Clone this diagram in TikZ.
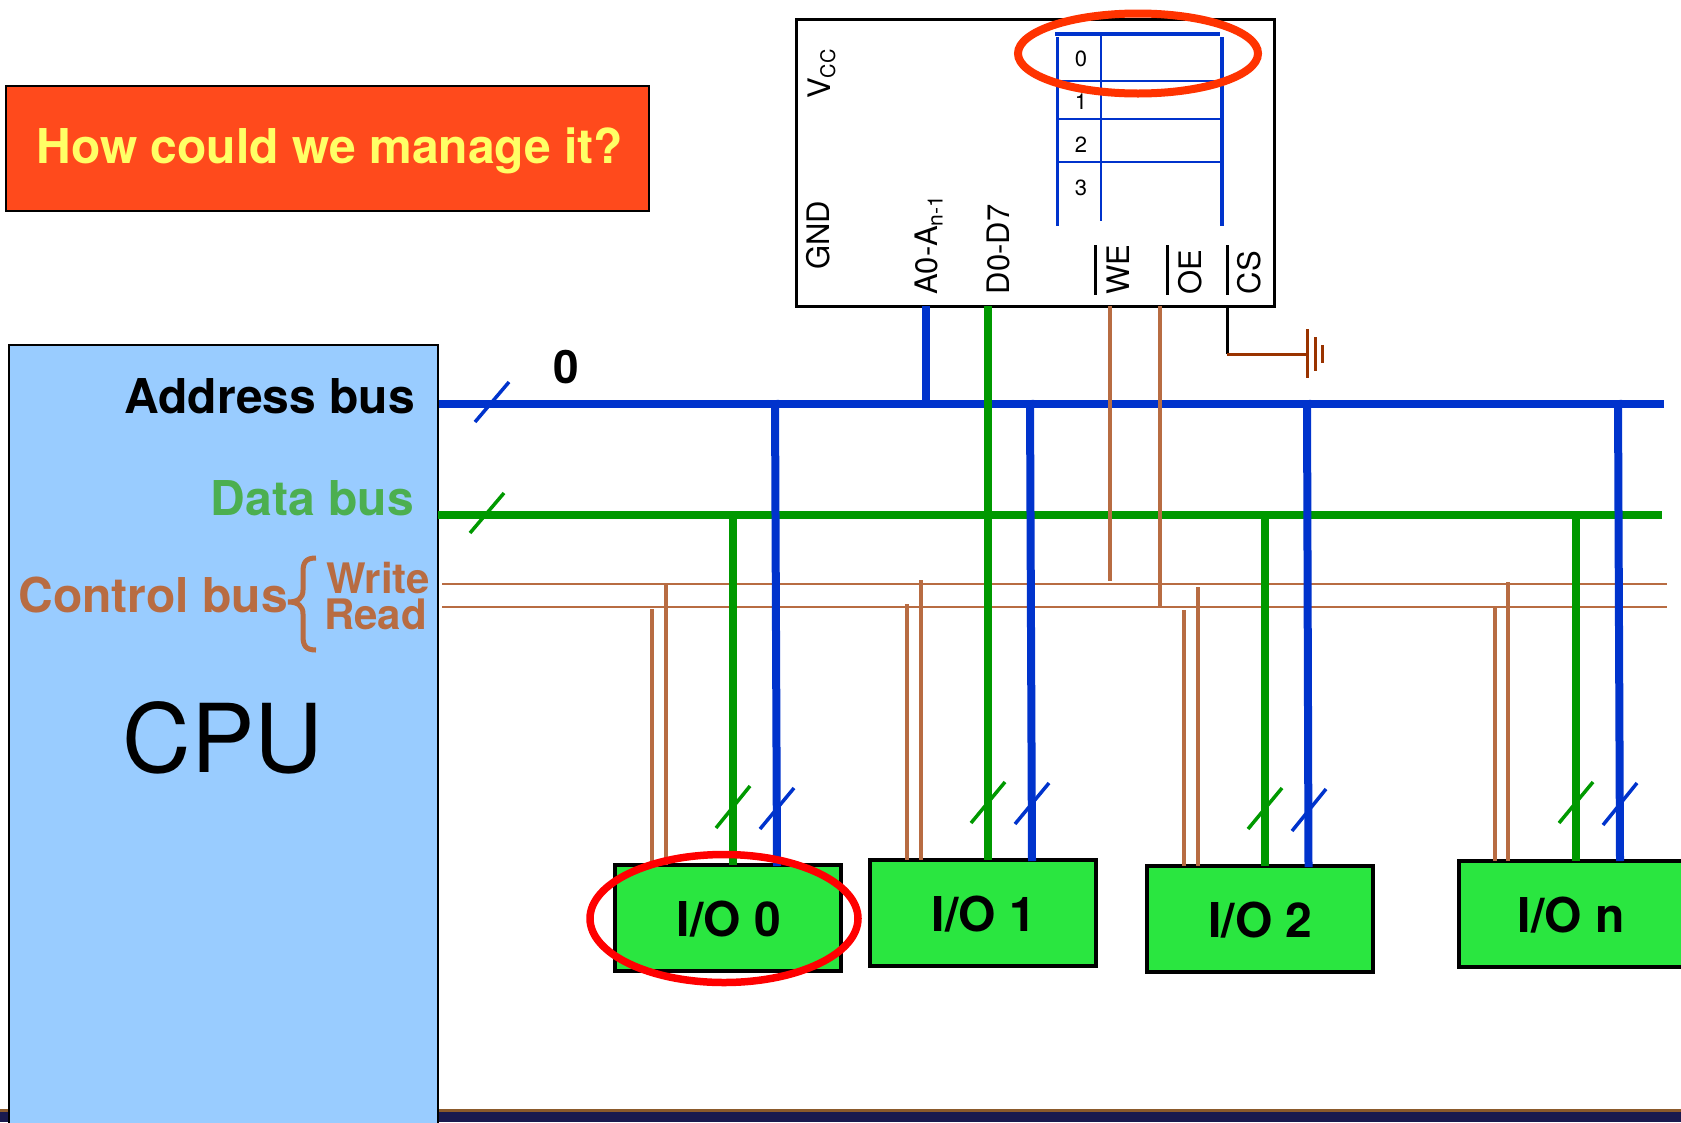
\documentclass[tikz,border=0pt]{standalone}
\usepackage{fontspec}
\setmainfont{TeX Gyre Heros}
\newcommand{\fs}[1]{\fontsize{#1}{#1}\selectfont}
\definecolor{abus}{HTML}{0033CC}
\definecolor{dbus}{HTML}{009900}
\definecolor{cbus}{HTML}{B86C42}
\definecolor{dlabel}{HTML}{4CAF50}
\definecolor{cpufill}{HTML}{99CCFF}
\definecolor{iofill}{HTML}{2AE640}
\definecolor{titlefill}{HTML}{FF4A1C}
\definecolor{titletext}{HTML}{FFFF66}
\definecolor{ringo}{HTML}{FF3300}
\definecolor{gnd}{HTML}{993300}
\definecolor{navy}{HTML}{1A1A4E}
\definecolor{barline}{HTML}{8B5A2B}
\tikzset{
  addrline/.style={abus,line width=8pt},
  dataline/.style={dbus,line width=8pt},
  ctrlline/.style={cbus,line width=3.5pt},
  ctrlbus/.style={cbus,line width=2.5pt},
  aslash/.style={abus,line width=3.5pt},
  dslash/.style={dbus,line width=3.5pt},
  iobox/.style={draw=black,fill=iofill,line width=4pt,minimum width=226pt,minimum height=106pt,inner sep=0pt,outer sep=0pt},
  iotext/.style={inner sep=0pt,anchor=base,font=\fs{48}\bfseries},
  buslabel/.style={inner sep=0pt,anchor=base east,font=\fs{48}\bfseries},
  pin/.style={rotate=90,anchor=base west,inner sep=0pt,font=\fs{31}},
  cellnum/.style={inner sep=0pt,font=\fs{22}},
  cellwide/.style={abus,line width=3.5pt},
  cellthin/.style={abus,line width=2pt},
  overbar/.style={black,line width=3pt},
}
\begin{document}
\begin{tikzpicture}[x=1pt,y=-1pt]
\useasboundingbox (0,0) rectangle (1681,1122);
\clip (0,0) rectangle (1681,1122);
% bottom bar
\fill[navy] (0,1110) rectangle (1681,1122);
\fill[barline] (0,1109) rectangle (1681,1112);
% title
\node[draw=black,fill=titlefill,line width=2pt,minimum width=643pt,minimum height=125pt,inner sep=0pt,outer sep=0pt] (title) at (327.5,148) {};
\node[inner sep=0pt,anchor=base,font=\fs{48}\bfseries,text=titletext] (titletxt) at (330,163.5) {How could we manage it?};
% CPU
\node[draw=black,fill=cpufill,line width=2pt,minimum width=429pt,minimum height=800pt,inner sep=0pt,outer sep=0pt,anchor=north west] (cpu) at (8.6,344.5) {};
\node[buslabel] (addrlab) at (415,413.5) {Address bus};
\node[buslabel,text=dlabel] (datalab) at (414,515) {Data bus};
\node[buslabel,text=cbus] (ctrllab) at (288,612) {Control bus};
\node[inner sep=0pt,anchor=base west,font=\fs{42}\bfseries,text=cbus] (wrlab) at (326,593) {Write};
\node[inner sep=0pt,anchor=base west,font=\fs{42}\bfseries,text=cbus] (rdlab) at (324,629) {Read};
\node[inner sep=0pt,anchor=base,font=\fs{95}] (cputxt) at (223,772) {CPU};
\draw[cbus,line width=5pt] (316,558) .. controls (306,558) and (303,562) .. (303,572) -- (303,590) .. controls (303,598) and (298,602) .. (288,602) .. controls (298,602) and (303,606) .. (303,614) -- (303,636) .. controls (303,646) and (306,650) .. (316,650);
\node[inner sep=0pt,anchor=base,font=\fs{46}\bfseries] (zero) at (566,383) {0};
% IO boxes
\node[iobox] (io0) at (728,918) {};
\node[iobox] (io1) at (983,913) {};
\node[iobox] (io2) at (1259.5,919) {};
\node[iobox] (ion) at (1572,913.5) {};
\node[iotext] (io0t) at (729,936) {I/O 0};
\node[iotext] (io1t) at (984,931) {I/O 1};
\node[iotext] (io2t) at (1260.5,937) {I/O 2};
\node[iotext] (iont) at (1571,932) {I/O n};
% bus end points
\coordinate (aL) at (438.5,404); \coordinate (aR) at (1664,404);
\coordinate (dL) at (438,515); \coordinate (dR) at (1662,515);
\coordinate (wL) at (442,584); \coordinate (wR) at (1667,584);
\coordinate (rL) at (442,607); \coordinate (rR) at (1667,607);
% chip
\node[draw=black,fill=white,line width=3pt,minimum width=478pt,minimum height=287pt,inner sep=0pt,outer sep=0pt,anchor=north west] (chip) at (796.5,19.5) {};
% I/O drops, control
\draw[ctrlline] (652,609) coordinate (c0a) -- (c0a|-io0.north);
\draw[ctrlline] (666,584) coordinate (c0b) -- (c0b|-io0.north);
\draw[ctrlline] (907,604) coordinate (c1a) -- (c1a|-io1.north);
\draw[ctrlline] (921,580) coordinate (c1b) -- (c1b|-io1.north);
\draw[ctrlline] (1184,610) coordinate (c2a) -- (c2a|-io2.north);
\draw[ctrlline] (1198,587) coordinate (c2b) -- (c2b|-io2.north);
\draw[ctrlline] (1495,607) coordinate (cna) -- (cna|-ion.north);
\draw[ctrlline] (1508,582) coordinate (cnb) -- (cnb|-ion.north);
\draw[ctrlbus] (wL) -- (wR);
\draw[ctrlbus] (rL) -- (rR);
\draw[dataline] (dL) -- (dR);
\draw[addrline] (aL) -- (aR);
\draw[addrline] (926,306) coordinate (chipa) -- (chipa|-aL);
\draw[dataline] (733,515) coordinate (d0) -- (d0|-io0.north);
\draw[dataline] (987.5,306) coordinate (d1) -- (d1|-io1.north);
\draw[dataline] (1265,515) coordinate (d2) -- (d2|-io2.north);
\draw[dataline] (1576,515) coordinate (dn) -- (dn|-ion.north);
\coordinate (b0t) at (775,400); \coordinate (b0b) at (777,866);
\coordinate (b1t) at (1030,400); \coordinate (b1b) at (1032,861);
\coordinate (b2t) at (1307,400); \coordinate (b2b) at (1308.5,867);
\coordinate (bnt) at (1618,400); \coordinate (bnb) at (1620,861);
\draw[addrline] (b0t) -- (b0b);
\draw[addrline] (b1t) -- (b1b);
\draw[addrline] (b2t) -- (b2b);
\draw[addrline] (bnt) -- (bnb);
% chip control pins run over the buses
\draw[ctrlline] (1110,306) coordinate (we) -- (1110,581);
\draw[ctrlline] (1160,306) coordinate (oe) -- (1160,608);
% slashes
\draw[aslash] (475,422) -- (509,382);
\draw[dslash] (470,533) -- (504,493);
\draw[dslash] (716,828) -- (750,786);
\draw[aslash] (760,829) -- (794,788);
\draw[dslash] (971,823) -- (1005,782);
\draw[aslash] (1015,824) -- (1049,783);
\draw[dslash] (1248,829) -- (1282,788);
\draw[aslash] (1292,831) -- (1326,789);
\draw[dslash] (1559,823) -- (1593,782);
\draw[aslash] (1603,825) -- (1637,783);
% CS and ground
\coordinate (cs) at (1227,306); \coordinate (csk) at (1227,354); \coordinate (gn) at (1307,354);
\draw[black,line width=3pt] (cs) -- (csk);
\draw[gnd,line width=3pt] (csk) -- (gn);
\draw[gnd,line width=3pt] (1307,329) -- (1307,378);
\draw[gnd,line width=3pt] (1315,337) -- (1315,371);
\draw[gnd,line width=3pt] (1322.5,345) -- (1322.5,363);
% chip pins
\node[pin] (vcc) at (830,99) {V\raisebox{-5pt}{\fs{20}CC}};
\node[pin] (gndt) at (829,270) {GND};
\node[pin] (apin) at (937,295) {A0-A\raisebox{-5.5pt}{\fs{21}n-1}};
\node[pin] (dpin) at (1009,294.5) {D0-D7};
\node[pin] (wepin) at (1129,294.5) {WE};
\node[pin] (oepin) at (1201,294.5) {OE};
\node[pin] (cspin) at (1260,294.5) {CS};
\draw[overbar] (1095,245) -- (1095,295);
\draw[overbar] (1167,245) -- (1167,295);
\draw[overbar] (1227,245) -- (1227,295);
% memory table
\draw[cellwide] (1057.5,37) -- (1057.5,226);
\draw[cellthin] (1101,34) -- (1101,221);
\draw[cellwide] (1222,37) -- (1222,226);
\draw[cellwide] (1055,34) -- (1220,34);
\draw[cellthin] (1057.5,81) -- (1222,81);
\draw[cellthin] (1057.5,119) -- (1222,119);
\draw[cellthin] (1057.5,162) -- (1222,162);
\node[cellnum] (n0) at (1081,59) {0};
\node[cellnum] (n1) at (1081,102) {1};
\node[cellnum] (n2) at (1081,145) {2};
\node[cellnum] (n3) at (1081,188) {3};
% highlight rings
\draw[ringo,line width=8pt] (1138,53.5) ellipse [x radius=120,y radius=40];
\draw[red,line width=7.5pt] (724,918.5) ellipse [x radius=134,y radius=64];
\end{tikzpicture}
\end{document}
